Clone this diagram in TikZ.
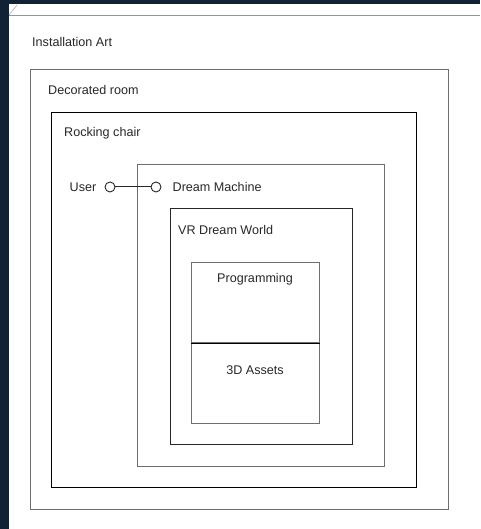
\documentclass[tikz,border=0pt]{standalone}
\usepackage{fontspec}
\setmainfont{Liberation Sans}
\usetikzlibrary{positioning}
\definecolor{navy}{RGB}{16,34,52}
\definecolor{framegray}{RGB}{110,110,110}
\definecolor{stripgray}{RGB}{150,150,150}
\definecolor{inkgray}{RGB}{40,40,40}

\begin{document}
\begin{tikzpicture}[x=1pt,y=-1pt,
  box/.style={draw, line width=1.1pt, inner sep=0pt, anchor=north west},
  lbl/.style={font=\fontsize{12.6}{15}\selectfont, text=inkgray, inner sep=0pt},
  port/.style={draw, circle, fill=white, line width=0.9pt, minimum size=10pt, inner sep=0pt}]
\useasboundingbox (0,0) rectangle (480,529);
% background and window
\fill[navy] (0,0) rectangle (480,529);
\fill[white] (9,4) rectangle (480,529);
\draw[stripgray] (9,15) -- (480,15);
\draw[stripgray] (9,15) -- (17,5);
% nested boxes
\node[box, draw=framegray, minimum width=418pt, minimum height=440pt] (room) at (30,69) {};
\node[box, draw=black, minimum width=365pt, minimum height=375pt] (chair) at (51,112) {};
\node[box, draw=framegray, minimum width=247pt, minimum height=302pt] (machine) at (137,164) {};
\node[box, draw=black!85, minimum width=182pt, minimum height=236pt] (world) at (170,208) {};
\node[box, draw=framegray, minimum width=128pt, minimum height=80pt] (prog) at (191,262) {};
\node[box, draw=framegray, minimum width=128pt, minimum height=81pt] (assets) at (191,342) {};
\draw[black, line width=0.9pt] (prog.south west) -- (prog.south east);
% labels
\node[lbl, anchor=west] (art) at (32,42) {Installation Art};
\node[lbl, anchor=west] (roomlbl) at (48,90) {Decorated room};
\node[lbl, anchor=west] (chairlbl) at (64,133) {Rocking chair};
\node[lbl, anchor=west] (worldlbl) at (178,230) {VR Dream World};
\node[lbl] (proglbl) at (255,279) {Programming};
\node[lbl] (assetslbl) at (255,370) {3D Assets};
% user and dream machine
\node[port, draw=inkgray] (uport) at (110,187) {};
\node[port, draw=inkgray] (dport) at (156,187) {};
\draw[inkgray, line width=1pt] (uport) -- (dport);
\node[lbl, left=8pt of uport] (userlbl) {User};
\node[lbl, right=11pt of dport] (dmlbl) {Dream Machine};
\end{tikzpicture}
\end{document}
